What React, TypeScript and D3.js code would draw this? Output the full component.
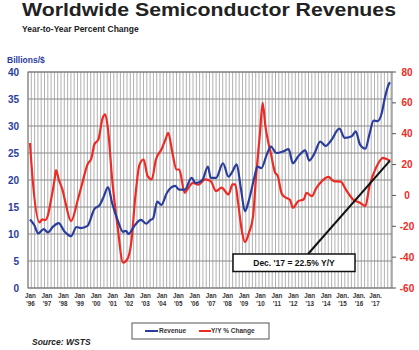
import * as d3 from 'd3';

// Revenue (billions $), 3-month moving average
const revDates = [
  '1996-01', '1996-04', '1996-07', '1996-11', '1997-02', '1997-06', '1997-10', '1998-02', '1998-07', '1998-11',
  '1999-02', '1999-07', '1999-12', '2000-04', '2000-07', '2000-10', '2001-01', '2001-05', '2001-09', '2001-11',
  '2002-01', '2002-05', '2002-10', '2003-02', '2003-05', '2003-07', '2003-10', '2004-01', '2004-05', '2004-11',
  '2005-02', '2005-06', '2005-11', '2006-02', '2006-07', '2006-11', '2007-01', '2007-05', '2007-10', '2008-02',
  '2008-05', '2008-08', '2008-11', '2009-02', '2009-05', '2009-09', '2009-11', '2010-02', '2010-06', '2010-09',
  '2011-01', '2011-06', '2011-10', '2012-01', '2012-05', '2012-10', '2013-01', '2013-05', '2013-09', '2014-01',
  '2014-05', '2014-11', '2015-03', '2015-08', '2015-11', '2016-02', '2016-06', '2016-09', '2016-12', '2017-03',
  '2017-06', '2017-08', '2017-11', '2017-12',
];
const revValues = [
  12.7, 11.7, 10.1, 10.9, 10.3, 11.4, 12, 10.5, 9.6, 11.3,
  11.1, 11.5, 14.6, 15.4, 17, 18.7, 15.7, 12.6, 10.4, 10.6,
  10, 11.4, 12.6, 11.9, 12.6, 12.9, 16, 15.4, 17.6, 18.9,
  18.2, 18.2, 20.4, 19.4, 20, 22.5, 20.4, 20.4, 23.1, 20.6,
  21.6, 22.9, 18.5, 14.2, 16.3, 20.6, 22.5, 22.2, 24.7, 26.2,
  25, 25.3, 25.7, 23.1, 24.4, 25.5, 23.6, 25, 27.1, 26.3,
  27.3, 29.5, 27.8, 28.1, 29, 26.6, 25.8, 28.5, 31, 30.9,
  32.4, 34.9, 37.7, 38.1,
];

// Year-to-year percent change
const yoyDates = [
  '1996-01', '1996-03', '1996-08', '1996-10', '1996-12', '1997-02', '1997-04', '1997-07', '1997-08', '1997-10',
  '1998-01', '1998-03', '1998-07', '1998-12', '1999-03', '1999-07', '1999-10', '1999-12', '2000-03', '2000-06',
  '2000-08', '2000-10', '2001-01', '2001-05', '2001-09', '2001-12', '2002-03', '2002-06', '2002-09', '2002-12',
  '2003-03', '2003-06', '2003-09', '2004-01', '2004-04', '2004-06', '2004-09', '2004-12', '2005-02', '2005-06',
  '2005-08', '2005-12', '2006-04', '2006-09', '2007-01', '2007-05', '2007-09', '2008-02', '2008-05', '2008-07',
  '2008-09', '2008-12', '2009-02', '2009-05', '2009-08', '2009-10', '2010-01', '2010-03', '2010-05', '2010-07',
  '2010-09', '2010-12', '2011-02', '2011-05', '2011-08', '2011-11', '2012-01', '2012-05', '2012-09', '2012-11',
  '2013-03', '2013-06', '2013-09', '2014-03', '2014-07', '2014-12', '2015-04', '2015-09', '2016-02', '2016-06',
  '2016-09', '2017-02', '2017-07', '2017-09', '2017-12',
];
const yoyValues = [
  34, 10, -17.5, -15.5, -16, -13, -4.8, 10.4, 16.4, 10.4,
  2.8, -4.8, -16.6, -2.6, 7.1, 20, 24.4, 33, 36.3, 50,
  52.5, 42.8, 10.4, -20, -43.6, -41.5, -30.7, -0.4, 20, 23.3,
  12.5, 10.4, 23.3, 29.8, 36.3, 40.6, 27.7, 16.8, 16.8, 1.7,
  3.9, 8.2, 7, 10.4, 9.3, 2.8, 5, 0.6, 7.1, 7.1,
  -4.7, -24.2, -30.2, -24.2, -13.4, 10.4, 40.6, 60, 44.9, 35,
  27, 15, 12.5, 1, -1.5, -3, -8, -3.7, -2.5, 1.7,
  -0.5, 4.5, 8, 12, 9.3, 9, 3.5, -2.6, -4.8, -6.9,
  6, 18.5, 24.4, 23.8, 22.5,
];

const years = d3.range(1996, 2018);
const leftTicks = d3.range(0, 41, 5);
const rightTicks = d3.range(-60, 81, 20);

const BLUE = '#2b3d9c';
const RED = '#ee2a24';
const FONT = '"Liberation Sans", Arial, Helvetica, sans-serif';

const parse = d3.timeParse('%Y-%m');

export default function App() {
  const width = 419;
  const height = 350;
  const plot = { left: 28, right: 392, top: 72, bottom: 288 };

  const x = d3.scaleTime()
    .domain([parse('1996-01')!, parse('2017-12')!])
    .range([30, 390]);
  const yL = d3.scaleLinear().domain([0, 40]).range([plot.bottom, plot.top]);
  const yR = d3.scaleLinear().domain([-60, 80]).range([plot.bottom, plot.top]);

  const revLine = d3.line<number>()
    .x((_, i) => x(parse(revDates[i])!))
    .y((d) => yL(d))
    .curve(d3.curveMonotoneX);
  const yoyLine = d3.line<number>()
    .x((_, i) => x(parse(yoyDates[i])!))
    .y((d) => yR(d))
    .curve(d3.curveMonotoneX);

  // dense vertical grid like the original
  const vGrid = d3.range(plot.left, plot.right, 3.3);

  const endX = x(parse(yoyDates[yoyDates.length - 1])!);
  const endY = yR(yoyValues[yoyValues.length - 1]);
  const box = { x: 233, y: 254, w: 122, h: 17.5 };

  return (
    <div style={{ position: 'fixed', left: 0, top: 0 }}>
      <svg width={width} height={height} style={{ display: 'block', background: '#fff', fontFamily: FONT }}>
        <text x={22} y={16} fontSize={19} fontWeight="bold" fill="#222" textLength={374} lengthAdjust="spacingAndGlyphs">
          Worldwide Semiconductor Revenues
        </text>
        <text x={22} y={32} fontSize={8.5} fontWeight="bold" fill="#222">Year-to-Year Percent Change</text>
        <text x={7} y={62.5} fontSize={8.5} fontWeight="bold" fill={BLUE}>Billions/$</text>

        {/* grid */}
        <g>
          {vGrid.map((gx, i) => (
            <line key={i} x1={gx} x2={gx} y1={plot.top} y2={plot.bottom} stroke="#a8a8a8" strokeWidth={0.9} />
          ))}
          {leftTicks.map((t) => (
            <line key={t} x1={plot.left} x2={plot.right} y1={yL(t)} y2={yL(t)} stroke="#8a8a8a" strokeWidth={1} />
          ))}
          <rect x={plot.left} y={plot.top} width={plot.right - plot.left} height={plot.bottom - plot.top}
            fill="none" stroke="#777" strokeWidth={1} />
        </g>

        {/* left axis */}
        {leftTicks.map((t) => (
          <text key={t} x={19} y={yL(t) + 3.5} fontSize={10} fontWeight="bold" fill={BLUE} textAnchor="end">{t}</text>
        ))}

        {/* right axis */}
        {rightTicks.map((t) => (
          <g key={t}>
            <line x1={plot.right} x2={plot.right + 4} y1={yR(t)} y2={yR(t)} stroke="#555" />
            <text x={407} y={yR(t) + 3.5} fontSize={10} fontWeight="bold" fill={RED} textAnchor="middle">{t}</text>
          </g>
        ))}

        {/* x labels */}
        {years.map((yr) => {
          const cx = x(new Date(yr, 0, 1)) + 0.5;
          return (
            <g key={yr} fontSize={6.3} fontWeight="bold" fill="#333" textAnchor="middle">
              <text x={cx} y={298}>{yr >= 2015 ? 'Jan.' : 'Jan'}</text>
              <text x={cx} y={306}>{`'${String(yr).slice(2)}`}</text>
            </g>
          );
        })}

        {/* series */}
        <path d={yoyLine(yoyValues) ?? ''} fill="none" stroke={RED} strokeWidth={2.2} strokeLinejoin="round" />
        <path d={revLine(revValues) ?? ''} fill="none" stroke={BLUE} strokeWidth={2.2} strokeLinejoin="round" />

        {/* annotation */}
        <line x1={308} y1={box.y} x2={endX} y2={endY} stroke="#111" strokeWidth={2} />
        <rect x={box.x} y={box.y} width={box.w} height={box.h} fill="#fff" stroke="#111" strokeWidth={1.5} />
        <text x={box.x + box.w / 2} y={box.y + 12} fontSize={8.5} fontWeight="bold" fill="#111" textAnchor="middle">
          Dec. '17 = 22.5% Y/Y
        </text>

        {/* legend */}
        <rect x={132} y={323} width={137} height={16} fill="#fff" stroke="#555" strokeWidth={1} />
        <line x1={145} x2={158} y1={331} y2={331} stroke={BLUE} strokeWidth={2} />
        <text x={159} y={333.3} fontSize={6.5} fontWeight="bold" fill="#333">Revenue</text>
        <line x1={199} x2={211} y1={331} y2={331} stroke={RED} strokeWidth={2} />
        <text x={211} y={333.3} fontSize={6.5} fontWeight="bold" fill="#333">Y/Y % Change</text>

        <text x={32} y={345} fontSize={8.5} fontWeight="bold" fontStyle="italic" fill="#222">Source: WSTS</text>
      </svg>
    </div>
  );
}
